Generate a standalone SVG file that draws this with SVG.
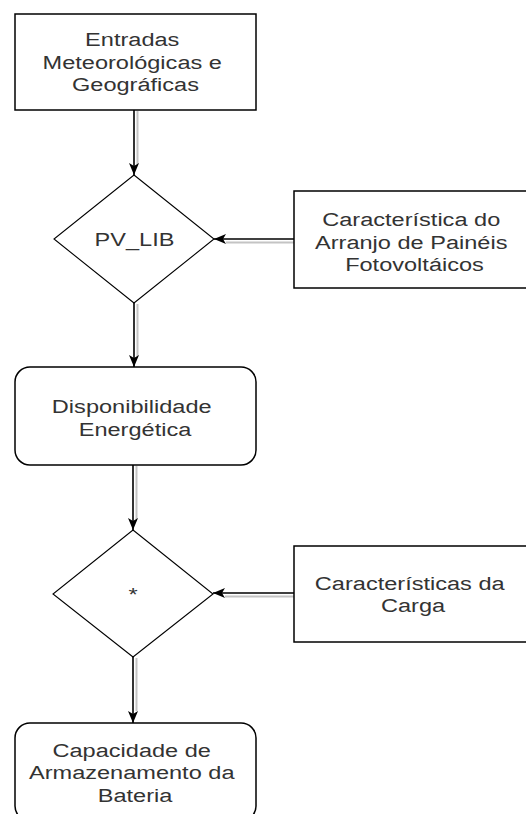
<svg xmlns="http://www.w3.org/2000/svg" width="526" height="814" viewBox="0 0 526 814">
  <style>
    .box { fill: #ffffff; stroke: #000000; stroke-width: 1.5; }
    .dia { fill: #ffffff; stroke: #000000; stroke-width: 1.1; }
    .t { font-family: "Liberation Sans", Arial, sans-serif; font-size: 19px; fill: #333333; text-anchor: middle; }
    .edge { fill: none; stroke: #000000; stroke-width: 1.6; marker-end: url(#arr); }
    .shadow { fill: none; stroke: #c4c4c4; stroke-width: 2; }
  </style>
  <defs>
    <marker id="arr" viewBox="0 0 12 10" refX="12" refY="5" markerWidth="12" markerHeight="10" orient="auto" markerUnits="userSpaceOnUse">
      <path d="M0,0 L12,5 L0,10 L3,5 Z" fill="#000000"/>
    </marker>
  </defs>
  <rect width="526" height="814" fill="#ffffff"/>

  <g id="connectors">
    <line class="shadow" x1="137.5" y1="111" x2="137.5" y2="164"/>
    <line class="edge" x1="134" y1="110" x2="134" y2="175"/>

    <line class="shadow" x1="137.5" y1="304" x2="137.5" y2="356"/>
    <line class="edge" x1="134" y1="303" x2="134" y2="367"/>

    <line class="shadow" x1="136.5" y1="466" x2="136.5" y2="519"/>
    <line class="edge" x1="133" y1="465" x2="133" y2="530"/>

    <line class="shadow" x1="136.5" y1="658" x2="136.5" y2="711"/>
    <line class="edge" x1="133" y1="657" x2="133" y2="723"/>

    <line class="shadow" x1="298" y1="242.5" x2="226" y2="242.5"/>
    <line class="edge" x1="294" y1="239" x2="214" y2="239"/>

    <line class="shadow" x1="298" y1="596.5" x2="225" y2="596.5"/>
    <line class="edge" x1="294" y1="593" x2="213" y2="593"/>
  </g>

  <g id="entradas">
    <rect class="box" x="15" y="14" width="241" height="96"/>
    <text class="t" transform="translate(135.5,0) scale(1.24,1)">
      <tspan x="0" y="46.5">Entradas</tspan>
      <tspan x="0" y="69">Meteorológicas e</tspan>
      <tspan x="0" y="91.5">Geográficas</tspan>
    </text>
  </g>

  <g id="pvlib">
    <polygon class="dia" points="134,175 214,239 134,303 54,239"/>
    <text class="t" transform="translate(134.5,0) scale(1.24,1)"><tspan x="0" y="246.5">PV_LIB</tspan></text>
  </g>

  <g id="arranjo">
    <rect class="box" x="294" y="191" width="241" height="97"/>
    <text class="t" transform="translate(414.5,0) scale(1.24,1)">
      <tspan x="0" y="226.5">Característica do</tspan>
      <tspan x="0" y="249">Arranjo de Painéis</tspan>
      <tspan x="0" y="271.5">Fotovoltáicos</tspan>
    </text>
  </g>

  <g id="disponibilidade">
    <rect class="box" x="15" y="367" width="241" height="98" rx="15" ry="15"/>
    <text class="t" transform="translate(135,0) scale(1.24,1)">
      <tspan x="0" y="413.5">Disponibilidade</tspan>
      <tspan x="0" y="436">Energética</tspan>
    </text>
  </g>

  <g id="operador">
    <polygon class="dia" points="133,530 213,594 133,657 53,594"/>
    <text class="t" transform="translate(133,0) scale(1.24,1)"><tspan x="0" y="601">*</tspan></text>
  </g>

  <g id="carga">
    <rect class="box" x="294" y="546" width="241" height="96"/>
    <text class="t" transform="translate(413,0) scale(1.24,1)">
      <tspan x="0" y="590">Características da</tspan>
      <tspan x="0" y="612.5">Carga</tspan>
    </text>
  </g>

  <g id="bateria">
    <rect class="box" x="15" y="723" width="241" height="98" rx="15" ry="15"/>
    <text class="t" transform="translate(135,0) scale(1.24,1)">
      <tspan x="0" y="757">Capacidade de</tspan>
      <tspan x="0" y="779.5">Armazenamento da</tspan>
      <tspan x="0" y="802">Bateria</tspan>
    </text>
  </g>
</svg>
